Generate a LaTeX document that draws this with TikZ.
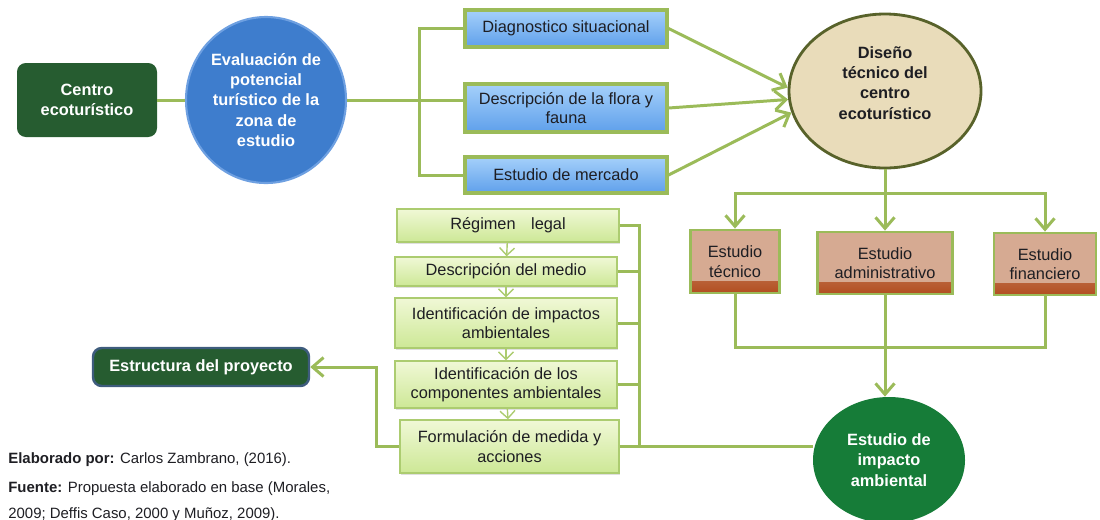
\documentclass[tikz,border=0pt]{standalone}
\usepackage{fontspec}
\setmainfont{Liberation Sans}
\usetikzlibrary{arrows.meta,shapes.geometric,shadows}
\definecolor{linkgreen}{RGB}{155,187,89}
\definecolor{marble}{RGB}{38,92,48}
\definecolor{marbleedge}{RGB}{62,92,125}
\definecolor{ovalblue}{RGB}{62,125,205}
\definecolor{ovaledge}{RGB}{110,160,225}
\definecolor{bluetop}{RGB}{165,208,250}
\definecolor{bluebottom}{RGB}{95,160,235}
\definecolor{sand}{RGB}{233,220,186}
\definecolor{olive}{RGB}{88,98,42}
\definecolor{salmon}{RGB}{214,170,146}
\definecolor{rust}{RGB}{178,78,32}
\definecolor{leaftop}{RGB}{240,248,214}
\definecolor{leafbottom}{RGB}{205,232,150}
\definecolor{leafline}{RGB}{172,204,112}
\definecolor{impactgreen}{RGB}{22,124,56}
\definecolor{inkdark}{RGB}{30,30,35}

\begin{document}
\begin{tikzpicture}[
    link/.style={draw=linkgreen, line width=1.7pt},
    arrow/.style={
        link,
        -{Straight Barb[length=2.2mm, width=3.8mm]}
    },
    smallarrow/.style={
        draw=leafline, line width=0.8pt,
        -{Straight Barb[length=1.5mm, width=3mm]}
    },
    marblebox/.style={
        rectangle, rounded corners=5pt, fill=marble, text=white,
        font=\bfseries\fontsize{9.3}{11.5}\selectfont, align=center, inner sep=0pt
    },
    bluebox/.style={
        rectangle, draw=linkgreen, line width=1.8pt,
        top color=bluetop, bottom color=bluebottom, text=inkdark,
        font=\fontsize{9.3}{11}\selectfont, align=center, inner sep=0pt,
        minimum width=4.04cm
    },
    leafbox/.style={
        rectangle, draw=leafline, line width=0.8pt,
        top color=leaftop, bottom color=leafbottom, text=inkdark,
        drop shadow={opacity=0.25, shadow xshift=0.6pt, shadow yshift=-1.2pt},
        font=\fontsize{9.3}{11}\selectfont, align=center, inner sep=0pt,
        minimum width=4.44cm
    },
    studybox/.style={
        rectangle, draw=linkgreen, line width=1.6pt, fill=salmon, text=inkdark,
        font=\fontsize{9.3}{11}\selectfont, align=center, inner sep=0pt,
        path picture={
            \shade[top color=salmon, bottom color=rust]
                (path picture bounding box.south west)
                rectangle ([yshift=0.24cm]path picture bounding box.south east);
        }
    },
    footline/.style={anchor=base west, inner sep=0pt, text=inkdark,
        font=\fontsize{8.5}{10}\selectfont}
]
\clip (0,0) rectangle (22,-10.38);

% =================== Left: centre and evaluation ===================
\node[marblebox, minimum width=2.80cm, minimum height=1.48cm] (centro)
    at (1.74,-2.00) {Centro\\ecoturístico};
\node[ellipse, fill=ovalblue, draw=ovaledge, line width=1.2pt, text=white,
      font=\bfseries\fontsize{9.3}{11.5}\selectfont, align=center, inner sep=0pt,
      minimum width=3.20cm, minimum height=3.32cm] (evaluacion)
    at (5.32,-2.00) {Evaluación de\\potencial\\turístico de la\\zona de\\estudio};

% =================== Top: three studies ===================
\node[bluebox, minimum height=0.74cm] (diag) at (11.32,-0.57) {Diagnostico situacional};
\node[bluebox, minimum height=0.96cm] (flora) at (11.32,-2.16) {Descripción de la flora y\\fauna};
\node[bluebox, minimum height=0.72cm] (mercado) at (11.32,-3.50) {Estudio de mercado};
\coordinate (lbrack) at (8.38,-2.00);

\node[ellipse, fill=sand, draw=olive, line width=1.6pt, text=inkdark,
      font=\bfseries\fontsize{9.3}{11.6}\selectfont, align=center, inner sep=0pt,
      minimum width=3.84cm, minimum height=3.08cm] (diseno)
    at (17.70,-1.82) {Diseño\\técnico del\\centro\\ecoturístico\\[-2.3pt]\mbox{}};

\draw[link] (centro) -- (evaluacion);
\draw[link] (evaluacion.east) -- (evaluacion.east -| flora.west);
\draw[link] (diag.west) -| (lbrack) |- (mercado.west);
\draw[arrow] (diag.east) -- (diseno.178);
\draw[arrow] (flora.east) -- (diseno.185);
\draw[arrow] (mercado.east) -- (diseno.193);

% =================== Right: technical studies ===================
\node[studybox, minimum width=1.78cm, minimum height=1.26cm] (tecnico) at (14.70,-5.23) {Estudio\\técnico};
\node[studybox, minimum width=2.70cm, minimum height=1.24cm] (admin) at (17.70,-5.26) {Estudio\\administrativo};
\node[studybox, minimum width=2.04cm, minimum height=1.24cm] (finan) at (20.90,-5.28) {Estudio\\financiero};
\coordinate (split) at (17.70,-3.86);
\coordinate (join) at (17.70,-6.94);

\draw[link] (diseno.south) -- (split);
\draw[arrow] (split) -| (tecnico.north);
\draw[arrow] (split) -- (admin.north);
\draw[arrow] (split) -| (finan.north);
\draw[link] (tecnico.south) |- (join) -| (finan.south);

\node[ellipse, fill=impactgreen, text=white,
      font=\bfseries\fontsize{9.3}{11.5}\selectfont, align=center, inner sep=0pt,
      minimum width=3.04cm, minimum height=2.52cm] (impacto)
    at (17.78,-9.20) {Estudio de\\impacto\\ambiental};
\draw[arrow] (admin.south) -- (admin.south |- impacto.north);

% =================== Centre column: environmental steps ===================
\node[leafbox, minimum height=0.66cm] (regimen) at (10.16,-4.51) {Régimen\hspace{0.95em}legal};
\node[leafbox, minimum height=0.58cm] (medio) at (10.12,-5.43) {Descripción del medio};
\node[leafbox, minimum height=1.00cm] (impactos) at (10.12,-6.46) {Identificación de impactos\\ambientales};
\node[leafbox, minimum height=0.94cm] (componentes) at (10.12,-7.69) {Identificación de los\\componentes ambientales};
\node[leafbox, minimum width=4.38cm, minimum height=1.06cm] (formulacion) at (10.19,-8.93) {Formulación de medida y\\acciones};
\coordinate (rbar) at (12.78,-8.93);

\draw[smallarrow] (regimen) -- (medio);
\draw[smallarrow] (medio) -- (impactos);
\draw[smallarrow] (impactos) -- (componentes);
\draw[smallarrow] (componentes) -- (formulacion);

\draw[link] (regimen.east) -| (rbar);
\draw[link] (medio.east) -- (medio.east -| rbar);
\draw[link] (impactos.east) -- (impactos.east -| rbar);
\draw[link] (componentes.east) -- (componentes.east -| rbar);
\draw[link] (formulacion.east) -- (formulacion.east -| impacto.west);

\node[marblebox, draw=marbleedge, line width=1.4pt,
      minimum width=4.32cm, minimum height=0.76cm] (estructura)
    at (4.02,-7.34) {Estructura del proyecto};
\draw[arrow] (formulacion.west) -- ++(-0.46,0) |- (estructura.east);

% =================== Footer ===================
\node[footline] (foot1) at (0.16,-9.26) {\textbf{Elaborado por:} Carlos Zambrano, (2016).};
\node[footline] (foot2) at (0.16,-9.84) {\textbf{Fuente:} Propuesta elaborado en base (Morales,};
\node[footline] (foot3) at (0.16,-10.36) {2009; Deffis Caso, 2000 y Muñoz, 2009).};

\end{tikzpicture}
\end{document}
